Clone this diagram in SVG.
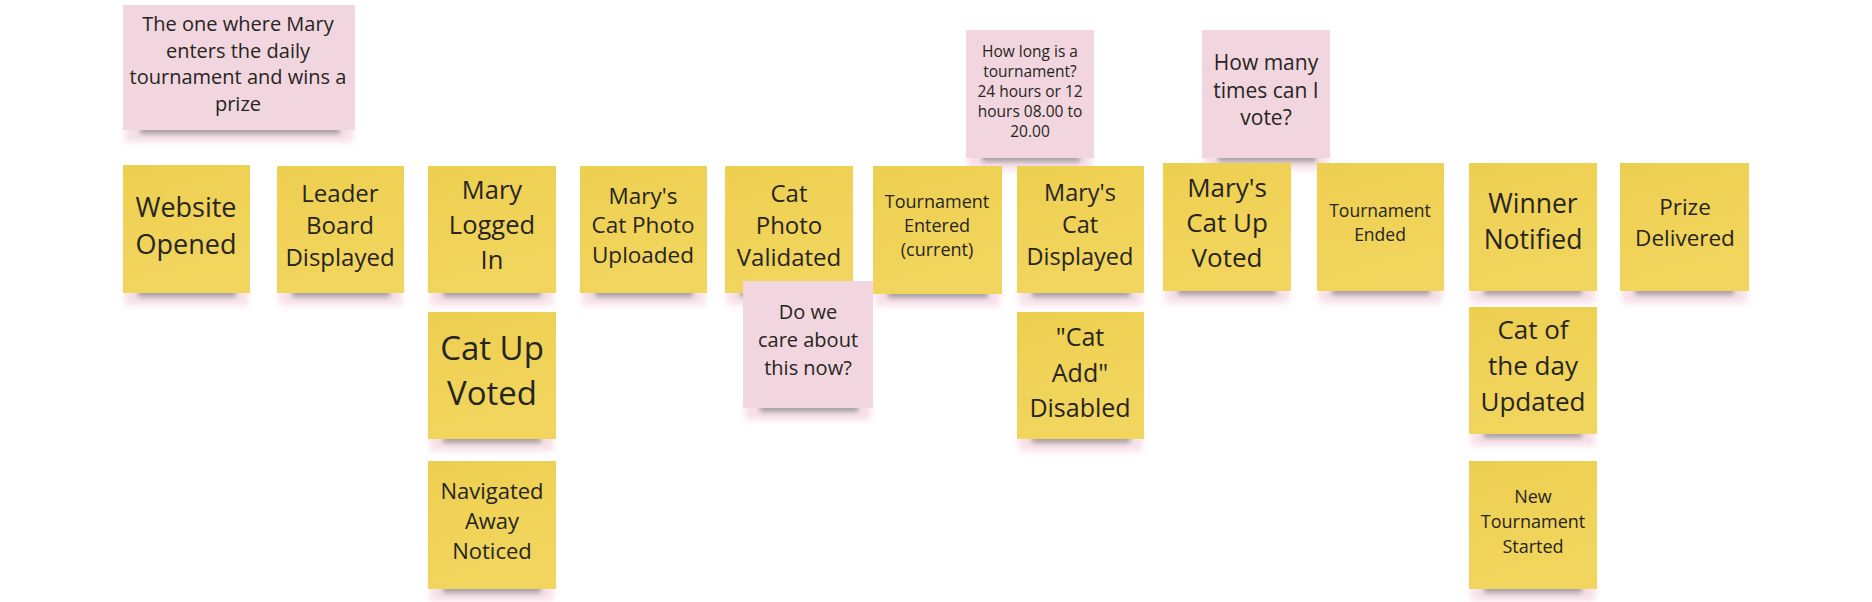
<svg xmlns="http://www.w3.org/2000/svg" width="1872" height="602" viewBox="0 0 1872 602">
<style>
.y{fill:url(#yg)}
.p{fill:#f2d6df}
.t{font-family:"Open Sans","Noto Sans","Liberation Sans",sans-serif;fill:#262521;text-anchor:middle}
.sh{fill:#8c8c8c;opacity:.75;filter:url(#blur)}
.ph{fill:#f0c6d4;opacity:.55;filter:url(#blur2)}
</style>
<defs>
<linearGradient id="yg" x1="0" y1="0" x2="0.3" y2="1">
<stop offset="0" stop-color="#edcf50"/>
<stop offset="1" stop-color="#f2d55e"/>
</linearGradient>
<filter id="blur" x="-20%" y="-100%" width="140%" height="300%"><feGaussianBlur stdDeviation="2.5"/></filter>
<filter id="blur2" x="-20%" y="-100%" width="140%" height="300%"><feGaussianBlur stdDeviation="3"/></filter>
</defs>
<rect width="1872" height="602" fill="#ffffff"/>
<g id="connectors"/>

<g id="title-note">
<rect class="ph" x="125" y="124" width="228" height="18"/>
<rect class="sh" x="140" y="124" width="200" height="10"/>
<rect class="p" x="123" y="5" width="232" height="125"/>
<text class="t" font-size="20"><tspan x="238" y="31">The one where Mary</tspan><tspan x="238" y="58">enters the daily</tspan><tspan x="238" y="84">tournament and wins a</tspan><tspan x="238" y="111">prize</tspan></text>
</g>

<g id="how-long-note">
<rect class="ph" x="968" y="152" width="124" height="18"/>
<rect class="sh" x="982" y="152" width="98" height="10"/>
<rect class="p" x="966" y="30" width="128" height="128"/>
<text class="t" font-size="15.5"><tspan x="1030" y="56.5">How long is a</tspan><tspan x="1030" y="76.5">tournament?</tspan><tspan x="1030" y="96.5">24 hours or 12</tspan><tspan x="1030" y="116.5">hours 08.00 to</tspan><tspan x="1030" y="136.5">20.00</tspan></text>
</g>

<g id="how-many-note">
<rect class="ph" x="1204" y="152" width="124" height="18"/>
<rect class="sh" x="1218" y="152" width="98" height="10"/>
<rect class="p" x="1202" y="30" width="128" height="128"/>
<text class="t" font-size="21"><tspan x="1266" y="70">How many</tspan><tspan x="1266" y="98">times can I</tspan><tspan x="1266" y="125">vote?</tspan></text>
</g>

<g id="website-opened">
<rect class="ph" x="125" y="287" width="123" height="18"/>
<rect class="sh" x="138" y="287" width="98" height="10"/>
<rect class="y" x="123" y="165" width="127" height="128"/>
<text class="t" font-size="27"><tspan x="186" y="216.5">Website</tspan><tspan x="186" y="253.5">Opened</tspan></text>
</g>

<g id="leader-board-displayed">
<rect class="ph" x="279" y="287" width="123" height="18"/>
<rect class="sh" x="292" y="287" width="98" height="10"/>
<rect class="y" x="277" y="166" width="127" height="127"/>
<text class="t" font-size="24"><tspan x="340" y="202">Leader</tspan><tspan x="340" y="234">Board</tspan><tspan x="340" y="266">Displayed</tspan></text>
</g>

<g id="mary-logged-in">
<rect class="ph" x="430" y="287" width="123" height="18"/>
<rect class="sh" x="443" y="287" width="98" height="10"/>
<rect class="y" x="428" y="166" width="128" height="127"/>
<text class="t" font-size="25.5"><tspan x="492" y="199">Mary</tspan><tspan x="492" y="234">Logged</tspan><tspan x="492" y="269">In</tspan></text>
</g>

<g id="cat-up-voted">
<rect class="ph" x="430" y="433" width="123" height="18"/>
<rect class="sh" x="443" y="433" width="98" height="10"/>
<rect class="y" x="428" y="312" width="128" height="127"/>
<text class="t" font-size="33"><tspan x="492" y="360">Cat Up</tspan><tspan x="492" y="405">Voted</tspan></text>
</g>

<g id="navigated-away-noticed">
<rect class="ph" x="430" y="583" width="123" height="18"/>
<rect class="sh" x="443" y="583" width="98" height="10"/>
<rect class="y" x="428" y="461" width="128" height="128"/>
<text class="t" font-size="22"><tspan x="492" y="499">Navigated</tspan><tspan x="492" y="529">Away</tspan><tspan x="492" y="559">Noticed</tspan></text>
</g>

<g id="marys-cat-photo-uploaded">
<rect class="ph" x="582" y="287" width="123" height="18"/>
<rect class="sh" x="595" y="287" width="98" height="10"/>
<rect class="y" x="580" y="166" width="127" height="127"/>
<text class="t" font-size="22.5"><tspan x="643" y="204">Mary's</tspan><tspan x="643" y="233">Cat Photo</tspan><tspan x="643" y="263">Uploaded</tspan></text>
</g>

<g id="cat-photo-validated">
<rect class="ph" x="727" y="287" width="123" height="18"/>
<rect class="sh" x="740" y="287" width="98" height="10"/>
<rect class="y" x="725" y="166" width="128" height="127"/>
<text class="t" font-size="24"><tspan x="789" y="202">Cat</tspan><tspan x="789" y="234">Photo</tspan><tspan x="789" y="266">Validated</tspan></text>
</g>

<g id="do-we-care-note">
<rect class="ph" x="745" y="402" width="126" height="18"/>
<rect class="sh" x="760" y="402" width="98" height="10"/>
<rect class="p" x="743" y="281" width="130" height="127"/>
<text class="t" font-size="20"><tspan x="808" y="319">Do we</tspan><tspan x="808" y="347">care about</tspan><tspan x="808" y="375">this now?</tspan></text>
</g>

<g id="tournament-entered">
<rect class="ph" x="875" y="288" width="125" height="18"/>
<rect class="sh" x="888" y="288" width="100" height="10"/>
<rect class="y" x="873" y="166" width="129" height="128"/>
<text class="t" font-size="18"><tspan x="937" y="208">Tournament</tspan><tspan x="937" y="232">Entered</tspan><tspan x="937" y="256">(current)</tspan></text>
</g>

<g id="marys-cat-displayed">
<rect class="ph" x="1019" y="287" width="123" height="18"/>
<rect class="sh" x="1032" y="287" width="98" height="10"/>
<rect class="y" x="1017" y="166" width="127" height="127"/>
<text class="t" font-size="23.5"><tspan x="1080" y="201">Mary's</tspan><tspan x="1080" y="233">Cat</tspan><tspan x="1080" y="265">Displayed</tspan></text>
</g>

<g id="cat-add-disabled">
<rect class="ph" x="1019" y="433" width="123" height="18"/>
<rect class="sh" x="1032" y="433" width="98" height="10"/>
<rect class="y" x="1017" y="312" width="127" height="127"/>
<text class="t" font-size="25"><tspan x="1080" y="346">"Cat</tspan><tspan x="1080" y="382">Add"</tspan><tspan x="1080" y="417">Disabled</tspan></text>
</g>

<g id="marys-cat-up-voted">
<rect class="ph" x="1165" y="285" width="124" height="18"/>
<rect class="sh" x="1178" y="285" width="98" height="10"/>
<rect class="y" x="1163" y="163" width="128" height="128"/>
<text class="t" font-size="26"><tspan x="1227" y="197">Mary's</tspan><tspan x="1227" y="232">Cat Up</tspan><tspan x="1227" y="267">Voted</tspan></text>
</g>

<g id="tournament-ended">
<rect class="ph" x="1319" y="285" width="123" height="18"/>
<rect class="sh" x="1332" y="285" width="98" height="10"/>
<rect class="y" x="1317" y="163" width="127" height="128"/>
<text class="t" font-size="17.5"><tspan x="1380" y="217">Tournament</tspan><tspan x="1380" y="241">Ended</tspan></text>
</g>

<g id="winner-notified">
<rect class="ph" x="1471" y="285" width="124" height="18"/>
<rect class="sh" x="1484" y="285" width="98" height="10"/>
<rect class="y" x="1469" y="163" width="128" height="128"/>
<text class="t" font-size="26.5"><tspan x="1533" y="213">Winner</tspan><tspan x="1533" y="249">Notified</tspan></text>
</g>

<g id="cat-of-the-day-updated">
<rect class="ph" x="1471" y="428" width="124" height="18"/>
<rect class="sh" x="1484" y="428" width="98" height="10"/>
<rect class="y" x="1469" y="307" width="128" height="127"/>
<text class="t" font-size="26"><tspan x="1533" y="339">Cat of</tspan><tspan x="1533" y="375">the day</tspan><tspan x="1533" y="411">Updated</tspan></text>
</g>

<g id="new-tournament-started">
<rect class="ph" x="1471" y="583" width="124" height="18"/>
<rect class="sh" x="1484" y="583" width="98" height="10"/>
<rect class="y" x="1469" y="461" width="128" height="128"/>
<text class="t" font-size="18"><tspan x="1533" y="503">New</tspan><tspan x="1533" y="528">Tournament</tspan><tspan x="1533" y="553">Started</tspan></text>
</g>

<g id="prize-delivered">
<rect class="ph" x="1622" y="285" width="125" height="18"/>
<rect class="sh" x="1635" y="285" width="99" height="10"/>
<rect class="y" x="1620" y="163" width="129" height="128"/>
<text class="t" font-size="22.5"><tspan x="1685" y="215">Prize</tspan><tspan x="1685" y="246">Delivered</tspan></text>
</g>
</svg>
